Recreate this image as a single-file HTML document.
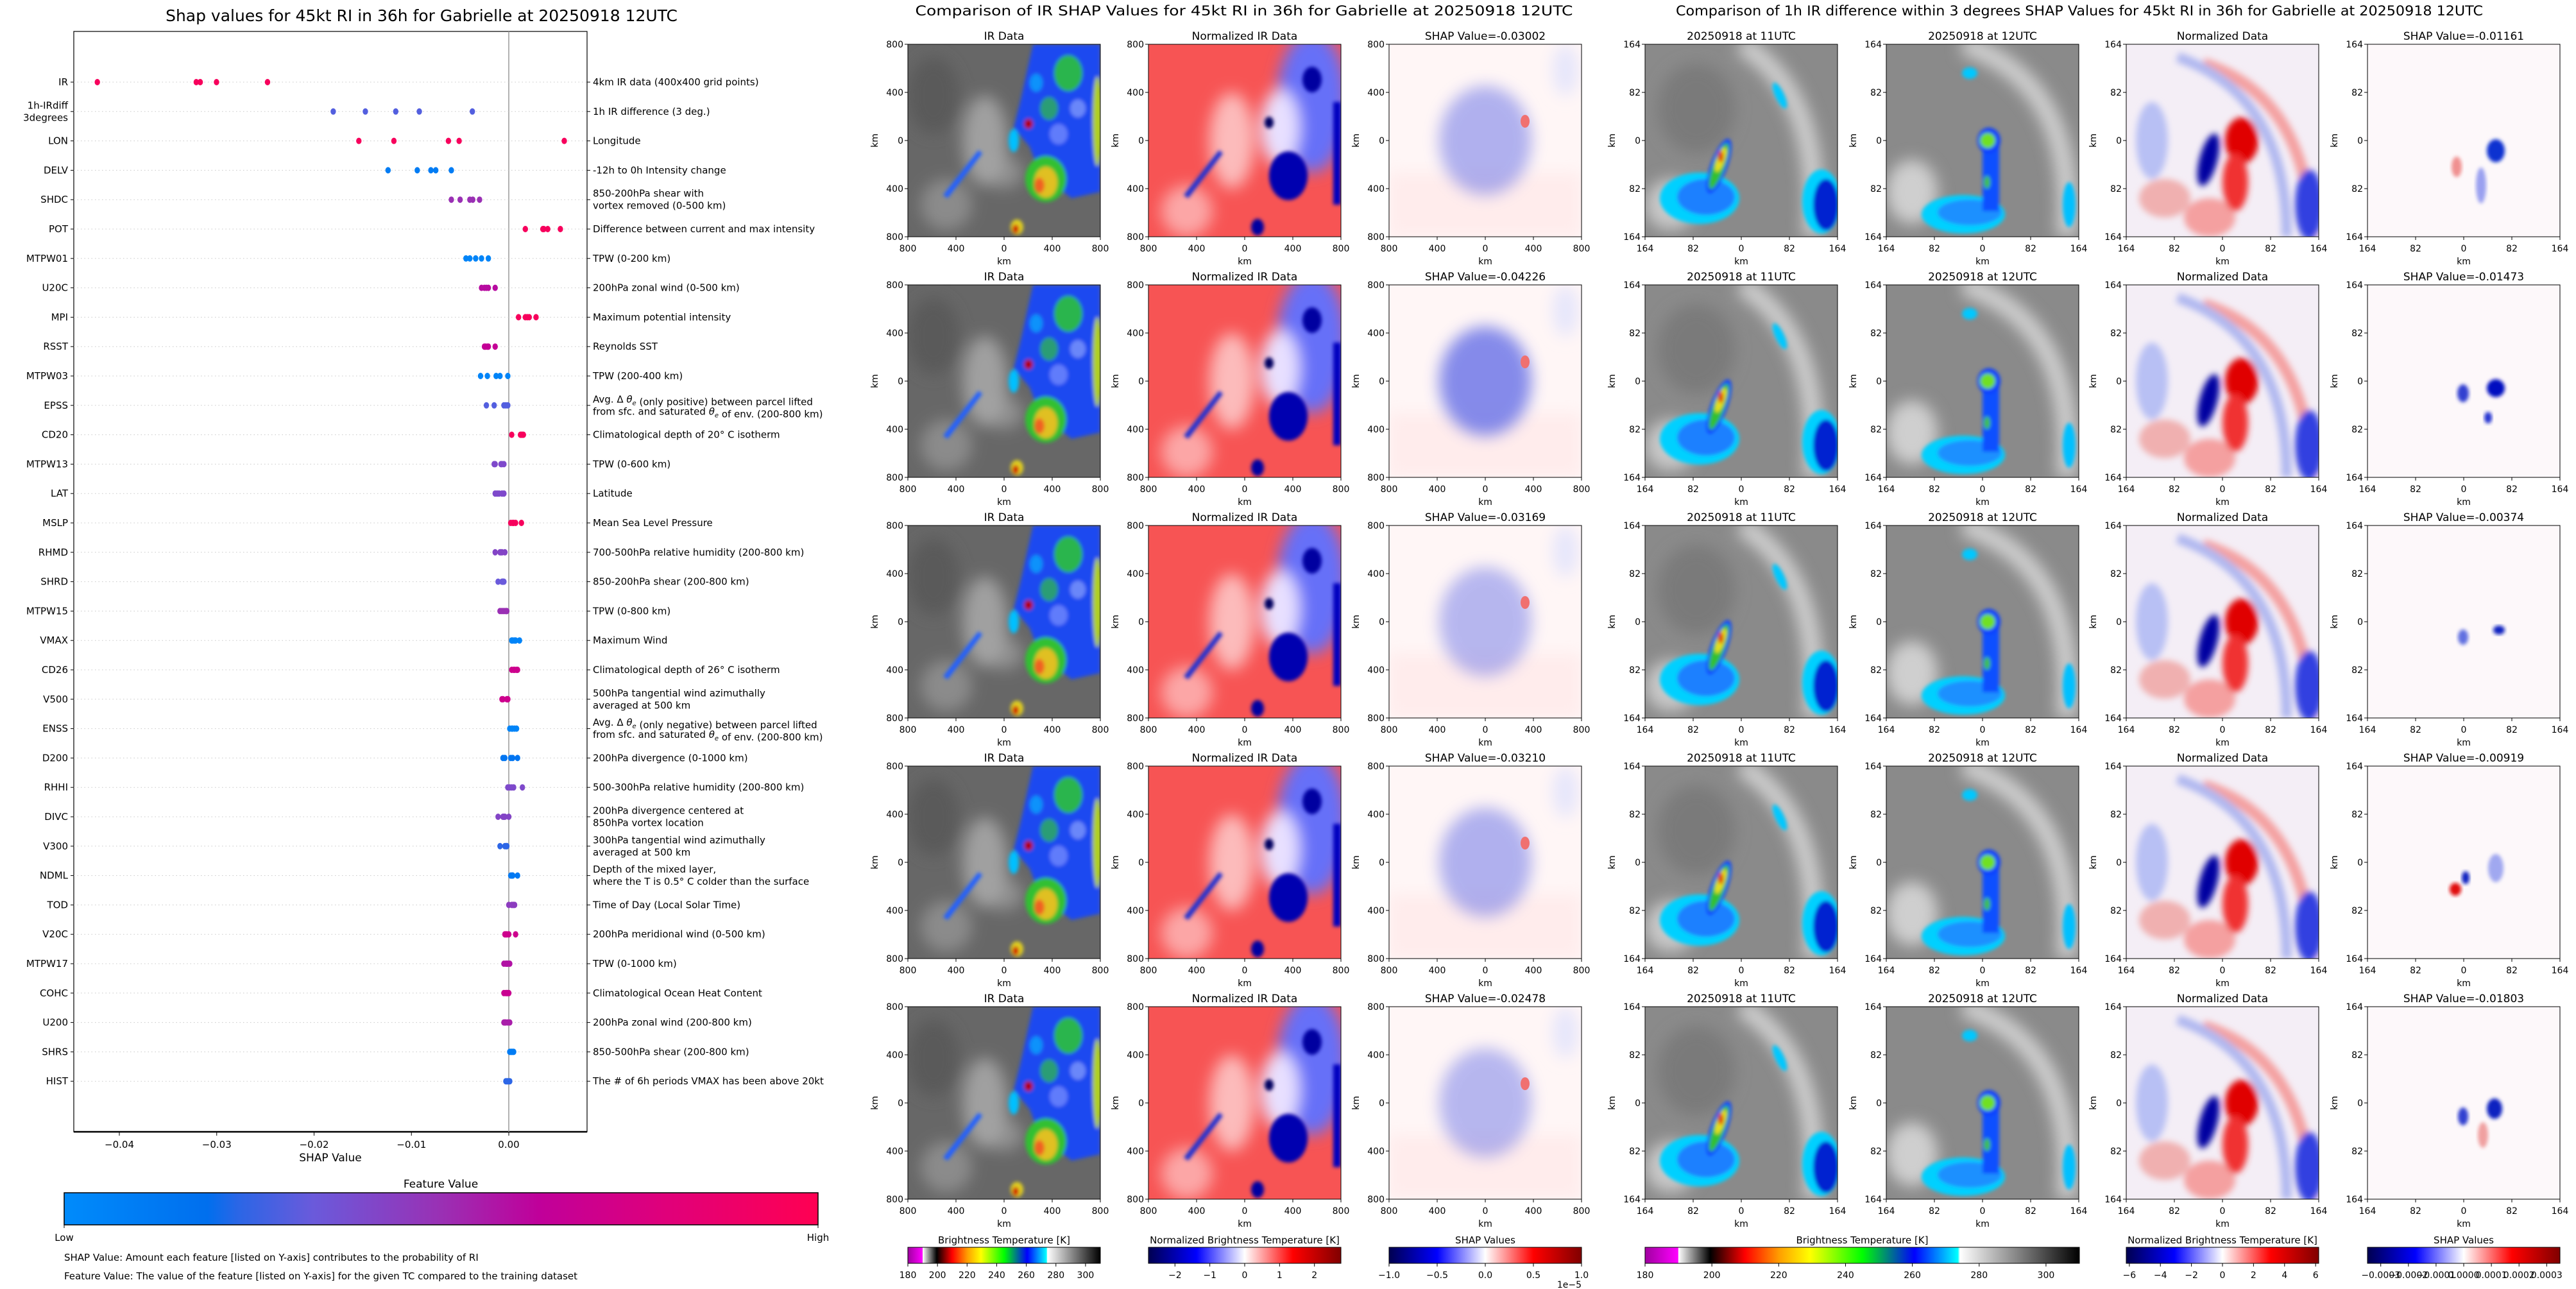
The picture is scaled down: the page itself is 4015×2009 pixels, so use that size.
<!DOCTYPE html>
<html><head><meta charset="utf-8"><style>
html,body{margin:0;padding:0;background:#fff;}
svg{display:block;font-family:"DejaVu Sans","Liberation Sans",sans-serif;}
</style></head><body>
<svg id="fig" xmlns="http://www.w3.org/2000/svg" width="4015" height="2009" viewBox="0 0 4015 2009">
<defs>
<filter id="b2" x="-20%" y="-20%" width="140%" height="140%"><feGaussianBlur stdDeviation="3"/></filter>
<filter id="b5" x="-30%" y="-30%" width="160%" height="160%"><feGaussianBlur stdDeviation="5"/></filter>
<filter id="b12" x="-50%" y="-50%" width="200%" height="200%"><feGaussianBlur stdDeviation="12"/></filter>
<clipPath id="pc"><rect x="0" y="0" width="300" height="300"/></clipPath>
<linearGradient id="fvgrad" x1="0" x2="1" y1="0" y2="0">
<stop offset="0" stop-color="#008bfb"/><stop offset="0.19" stop-color="#006fee"/><stop offset="0.23" stop-color="#2a66e6"/><stop offset="0.33" stop-color="#6a5adb"/><stop offset="0.5" stop-color="#9a30b4"/><stop offset="0.63" stop-color="#c0009a"/><stop offset="0.8" stop-color="#e0007a"/><stop offset="1" stop-color="#ff0052"/></linearGradient>
<linearGradient id="irgrad" x1="0" x2="1" y1="0" y2="0">
<stop offset="0" stop-color="#a000a0"/><stop offset="0.076" stop-color="#ff00ff"/><stop offset="0.077" stop-color="#ffffff"/><stop offset="0.15" stop-color="#000000"/><stop offset="0.23" stop-color="#ff0000"/><stop offset="0.31" stop-color="#ffa000"/><stop offset="0.38" stop-color="#ffff00"/><stop offset="0.5" stop-color="#00ff00"/><stop offset="0.62" stop-color="#0000ff"/><stop offset="0.72" stop-color="#00ffff"/><stop offset="0.725" stop-color="#ffffff"/><stop offset="1" stop-color="#000000"/></linearGradient>
<linearGradient id="seis" x1="0" x2="1" y1="0" y2="0">
<stop offset="0" stop-color="#000050"/><stop offset="0.25" stop-color="#0000ff"/><stop offset="0.5" stop-color="#ffffff"/><stop offset="0.75" stop-color="#ff0000"/><stop offset="1" stop-color="#800000"/></linearGradient>

<g id="irimg" clip-path="url(#pc)">
<rect width="300" height="300" fill="#676767"/>
<g filter="url(#b12)">
<ellipse cx="120" cy="150" rx="35" ry="70" fill="#b8b8b8" opacity="0.7"/>
<ellipse cx="60" cy="250" rx="40" ry="40" fill="#9a9a9a" opacity="0.7"/>
<ellipse cx="150" cy="200" rx="30" ry="25" fill="#a8a8a8" opacity="0.6"/>
<ellipse cx="40" cy="80" rx="40" ry="60" fill="#5a5a5a"/>
</g>
<g filter="url(#b2)">
<path d="M195 0 L300 0 L300 230 L255 240 L205 200 L190 160 L165 130 L175 90 Z" fill="#1a4af0"/>
<ellipse cx="250" cy="45" rx="22" ry="28" fill="#30c830" opacity="0.85"/>
<ellipse cx="220" cy="100" rx="14" ry="18" fill="#30c040" opacity="0.7"/>
<ellipse cx="235" cy="140" rx="14" ry="16" fill="#8090ff" opacity="0.7"/>
<ellipse cx="265" cy="100" rx="12" ry="14" fill="#a0b0ff" opacity="0.6"/>
<ellipse cx="200" cy="60" rx="10" ry="14" fill="#00b0ff" opacity="0.7"/>
<ellipse cx="295" cy="120" rx="7" ry="70" fill="#b0d020"/>
<ellipse cx="215" cy="210" rx="32" ry="36" fill="#30c030"/>
<ellipse cx="215" cy="215" rx="18" ry="24" fill="#e0c020"/>
<ellipse cx="205" cy="220" rx="8" ry="12" fill="#f06020"/>
<ellipse cx="188" cy="124" rx="7" ry="8" fill="#b00000"/>
<path d="M55 235 L110 165 L116 170 L62 240 Z" fill="#2060ff"/>
<ellipse cx="170" cy="285" rx="10" ry="12" fill="#e0d020"/>
<ellipse cx="168" cy="288" rx="5" ry="7" fill="#d00000"/>
<ellipse cx="165" cy="150" rx="8" ry="18" fill="#00c0ff"/>
</g></g>

<g id="nrimg" clip-path="url(#pc)">
<rect width="300" height="300" fill="#f75454"/>
<g filter="url(#b12)">
<ellipse cx="130" cy="150" rx="35" ry="75" fill="#ffffff" opacity="0.6"/>
<ellipse cx="60" cy="260" rx="40" ry="40" fill="#ffdddd" opacity="0.6"/>
<ellipse cx="255" cy="90" rx="55" ry="110" fill="#6670f8"/>
<ellipse cx="205" cy="130" rx="30" ry="60" fill="#e8e0ff"/>
</g>
<g filter="url(#b2)">
<ellipse cx="218" cy="205" rx="30" ry="38" fill="#0000b0"/>
<rect x="288" y="90" width="12" height="160" fill="#0000c0"/>
<ellipse cx="188" cy="122" rx="7" ry="9" fill="#000060"/>
<ellipse cx="170" cy="285" rx="10" ry="13" fill="#0000a0"/>
<path d="M55 235 L110 165 L116 170 L62 240 Z" fill="#2030d0"/>
<ellipse cx="255" cy="55" rx="15" ry="20" fill="#0000a0"/>
</g></g>

<g id="shimgbase" clip-path="url(#pc)">
<rect width="300" height="300" fill="#fff6f6"/>
<rect y="200" width="300" height="100" fill="#ffecec" filter="url(#b12)"/>
<ellipse cx="275" cy="40" rx="20" ry="40" fill="#e6e6fb" filter="url(#b12)"/>
</g>

<g id="r1img" clip-path="url(#pc)">
<rect width="300" height="300" fill="#8a8a8a"/>
<g filter="url(#b12)">
<path d="M150 0 Q280 80 260 300" stroke="#cfcfcf" stroke-width="30" fill="none"/>
<ellipse cx="40" cy="250" rx="40" ry="40" fill="#c8c8c8"/>
<ellipse cx="80" cy="100" rx="60" ry="70" fill="#7a7a7a"/>
</g>
<g filter="url(#b2)">
<ellipse cx="85" cy="240" rx="62" ry="40" fill="#00d0ff"/>
<ellipse cx="95" cy="238" rx="45" ry="28" fill="#1a80ff"/>
<ellipse cx="275" cy="245" rx="30" ry="50" fill="#00d0ff"/>
<ellipse cx="282" cy="250" rx="20" ry="40" fill="#0020d0"/>
<ellipse cx="115" cy="190" rx="13" ry="45" transform="rotate(20 115 190)" fill="#1040ff"/>
<ellipse cx="115" cy="190" rx="9" ry="38" transform="rotate(20 115 190)" fill="#30c030"/>
<ellipse cx="118" cy="180" rx="6" ry="20" transform="rotate(20 118 180)" fill="#e8e020"/>
<ellipse cx="118" cy="175" rx="4" ry="9" fill="#e02000"/>
<ellipse cx="210" cy="80" rx="7" ry="22" transform="rotate(-25 210 80)" fill="#00c8ff"/>
</g></g>

<g id="r2img" clip-path="url(#pc)">
<rect width="300" height="300" fill="#8a8a8a"/>
<g filter="url(#b12)">
<path d="M120 0 Q300 60 280 300" stroke="#d0d0d0" stroke-width="30" fill="none"/>
<ellipse cx="40" cy="230" rx="40" ry="50" fill="#cfcfcf"/>
</g>
<g filter="url(#b2)">
<ellipse cx="120" cy="265" rx="65" ry="30" fill="#00d0ff"/>
<ellipse cx="130" cy="262" rx="50" ry="20" fill="#1a90ff"/>
<rect x="150" y="150" width="26" height="110" fill="#1050ff"/>
<ellipse cx="160" cy="150" rx="18" ry="20" fill="#1040ff"/>
<ellipse cx="158" cy="150" rx="12" ry="12" fill="#70e020"/>
<ellipse cx="157" cy="215" rx="5" ry="10" fill="#40c040"/>
<ellipse cx="130" cy="45" rx="12" ry="9" fill="#00c8ff"/>
<ellipse cx="285" cy="250" rx="10" ry="35" fill="#00c0ff"/>
</g></g>

<g id="r3img" clip-path="url(#pc)">
<rect width="300" height="300" fill="#f4eef6"/>
<g filter="url(#b5)">
<path d="M120 30 Q280 80 290 300" stroke="#f4a0a0" stroke-width="18" fill="none"/>
<path d="M80 20 Q250 80 250 300" stroke="#b0b8f0" stroke-width="16" fill="none"/>
<ellipse cx="40" cy="150" rx="25" ry="60" fill="#b8c0f4"/>
<ellipse cx="60" cy="240" rx="40" ry="30" fill="#f0b0b0"/>
<ellipse cx="130" cy="270" rx="40" ry="30" fill="#f4a0a0"/>
<ellipse cx="285" cy="250" rx="22" ry="55" fill="#3040e0"/>
<ellipse cx="180" cy="150" rx="26" ry="36" fill="#e00000"/>
<ellipse cx="170" cy="215" rx="20" ry="45" fill="#f03030"/>
<ellipse cx="128" cy="180" rx="14" ry="42" transform="rotate(15 128 180)" fill="#0000a0"/>
</g></g>
</defs>
<rect width="4015" height="2009" fill="#ffffff"/>
<g id="left-chart"></g>
<g id="panels"></g>
</svg>
<script>
// ---------- Left chart data ----------
const featureNames = ["IR","1h-IRdiff\n3degrees","LON","DELV","SHDC","POT","MTPW01","U20C","MPI","RSST","MTPW03","EPSS","CD20","MTPW13","LAT","MSLP","RHMD","SHRD","MTPW15","VMAX","CD26","V500","ENSS","D200","RHHI","DIVC","V300","NDML","TOD","V20C","MTPW17","COHC","U200","SHRS","HIST"];
const featureDescriptions = ["4km IR data (400x400 grid points)","1h IR difference (3 deg.)","Longitude","-12h to 0h Intensity change","850-200hPa shear with\nvortex removed (0-500 km)","Difference between current and max intensity","TPW (0-200 km)","200hPa zonal wind (0-500 km)","Maximum potential intensity","Reynolds SST","TPW (200-400 km)","Avg. Δ θe (only positive) between parcel lifted\nfrom sfc. and saturated θe of env. (200-800 km)","Climatological depth of 20° C isotherm","TPW (0-600 km)","Latitude","Mean Sea Level Pressure","700-500hPa relative humidity (200-800 km)","850-200hPa shear (200-800 km)","TPW (0-800 km)","Maximum Wind","Climatological depth of 26° C isotherm","500hPa tangential wind azimuthally\naveraged at 500 km","Avg. Δ θe (only negative) between parcel lifted\nfrom sfc. and saturated θe of env. (200-800 km)","200hPa divergence (0-1000 km)","500-300hPa relative humidity (200-800 km)","200hPa divergence centered at\n850hPa vortex location","300hPa tangential wind azimuthally\naveraged at 500 km","Depth of the mixed layer,\nwhere the T is 0.5° C colder than the surface","Time of Day (Local Solar Time)","200hPa meridional wind (0-500 km)","TPW (0-1000 km)","Climatological Ocean Heat Content","200hPa zonal wind (200-800 km)","850-500hPa shear (200-800 km)","The # of 6h periods VMAX has been above 20kt"];
const shapIR = [-0.03002,-0.04226,-0.03169,-0.03210,-0.02478];
const shapIRdiff = [-0.01161,-0.01473,-0.00374,-0.00919,-0.01803];
const shapValues = [
 shapIR, shapIRdiff,
 [-0.0154,-0.0118,-0.0062,-0.0051,0.0057],
 [-0.0124,-0.0094,-0.0080,-0.0075,-0.0059],
 [-0.0059,-0.0050,-0.0040,-0.0037,-0.0030],
 [0.0017,0.0035,0.0036,0.0040,0.0053],
 [-0.0044,-0.0040,-0.0034,-0.0028,-0.0021],
 [-0.0028,-0.0025,-0.0023,-0.0021,-0.0014],
 [0.0010,0.0017,0.0019,0.0021,0.0028],
 [-0.0025,-0.0024,-0.0022,-0.0021,-0.0014],
 [-0.0029,-0.0022,-0.0013,-0.0009,-0.0001],
 [-0.0023,-0.0015,-0.0005,-0.0003,-0.0001],
 [0.0003,0.0012,0.0013,0.0014,0.0015],
 [-0.0015,-0.0014,-0.0008,-0.0007,-0.0005],
 [-0.0014,-0.0012,-0.0010,-0.0007,-0.0005],
 [0.0002,0.0004,0.0005,0.0007,0.0013],
 [-0.0014,-0.0009,-0.0008,-0.0007,-0.0004],
 [-0.0011,-0.0007,-0.0006,-0.0006,-0.0005],
 [-0.0009,-0.0007,-0.0005,-0.0003,-0.0002],
 [0.0003,0.0004,0.0006,0.0007,0.0011],
 [0.0003,0.0005,0.0006,0.0008,0.0009],
 [-0.0007,-0.0006,-0.0002,-0.0001,-0.0001],
 [0.0001,0.0003,0.0004,0.0006,0.0008],
 [-0.0006,-0.0004,0.0002,0.0004,0.0009],
 [-0.0001,0.0001,0.0003,0.0005,0.0014],
 [-0.0011,-0.0006,-0.0005,-0.0004,0.0000],
 [-0.0009,-0.0004,-0.0003,-0.0002,-0.0002],
 [0.0002,0.0003,0.0004,0.0004,0.0009],
 [0.0000,0.0003,0.0004,0.0005,0.0006],
 [-0.0004,-0.0003,-0.0002,0.0000,0.0007],
 [-0.0005,-0.0003,-0.0002,-0.0001,0.0001],
 [-0.0005,-0.0003,-0.0002,-0.0001,0.0000],
 [-0.0005,-0.0004,-0.0003,-0.0001,0.0001],
 [0.0001,0.0002,0.0003,0.0004,0.0005],
 [-0.0003,-0.0002,-0.0001,0.0000,0.0001]
];
const featureColorVals = [0.95,0.3,0.95,0.1,0.5,0.95,0.05,0.6,0.95,0.65,0.05,0.3,0.95,0.4,0.4,0.95,0.42,0.33,0.5,0.05,0.7,0.7,0.05,0.15,0.4,0.42,0.25,0.12,0.45,0.7,0.58,0.68,0.55,0.1,0.25];
const xTickVals = [-0.04,-0.03,-0.02,-0.01,0.0];
const xTickLabels = ["\u22120.04","\u22120.03","\u22120.02","\u22120.01","0.00"];

// ---------- Image panel data ----------
const rowShapIR = shapIR;
const rowShapDiff = shapIRdiff;
const midTickLabels = ["800","400","0","400","800"];
const rightTickLabels = ["164","82","0","82","164"];
const irCbTicks = [180,200,220,240,260,280,300];
const nrCbTicks = [-2,-1,0,1,2];
const shCbTicks = [-1.0,-0.5,0.0,0.5,1.0];
const nr2CbTicks = [-6,-4,-2,0,2,4,6];
const sh2CbTicks = [-0.0003,-0.0002,-0.0001,0.0,0.0001,0.0002,0.0003];

const NS = "http://www.w3.org/2000/svg";
function mk(tag, attrs, parent){ const e=document.createElementNS(NS,tag); for(const k in attrs) e.setAttribute(k,attrs[k]); parent.appendChild(e); return e; }
function txt(s, attrs, parent){ const e=mk('text',attrs,parent); e.textContent=s; return e; }
const stops=[[0,[0,139,251]],[0.19,[0,111,238]],[0.33,[106,90,219]],[0.5,[154,48,180]],[0.63,[192,0,154]],[0.8,[224,0,122]],[1,[255,0,82]]];
function cmap(v){ for(let i=1;i<stops.length;i++){ if(v<=stops[i][0]){ const a=stops[i-1],b=stops[i]; const t=(v-a[0])/(b[0]-a[0]); const c=a[1].map((x,j)=>Math.round(x+(b[1][j]-x)*t)); return 'rgb('+c.join(',')+')'; } } return 'rgb(255,0,82)'; }

// ---------- Left chart ----------
const L = document.getElementById('left-chart');
const AX = {left:115, right:915, top:49, bottom:1764};
const X0 = 793, XSCALE = 15175;
function xS(v){ return X0 + v*XSCALE; }
function yR(i){ return 128 + i*45.8; }

let el;
el = txt("Shap values for 45kt RI in 36h for Gabrielle at 20250918 12UTC",{x:657,y:33,'text-anchor':'middle','font-size':25},L);



el = mk('rect',{x:AX.left,y:AX.top,width:AX.right-AX.left,height:AX.bottom-AX.top,fill:'none',stroke:'#000','stroke-width':1.2},L);


mk('line',{x1:AX.left,x2:AX.right,y1:AX.bottom,y2:AX.bottom,stroke:'#000','stroke-width':2.5},L);

el = mk('line',{x1:xS(0),x2:xS(0),y1:AX.top,y2:AX.bottom,stroke:'#999','stroke-width':1.5},L);



function addThetaText(line, attrs, parent){
  const t = mk('text',attrs,parent);
  const parts = line.split('θe');
  parts.forEach((p,i)=>{
    const s=document.createElementNS(NS,'tspan'); s.textContent=p; t.appendChild(s);
    if(i<parts.length-1){
      const th=document.createElementNS(NS,'tspan'); th.textContent='θ'; th.setAttribute('font-style','italic'); t.appendChild(th);
      const sub=document.createElementNS(NS,'tspan'); sub.textContent='e'; sub.setAttribute('font-size','10'); sub.setAttribute('dy','4'); sub.setAttribute('font-style','italic'); t.appendChild(sub);
      const back=document.createElementNS(NS,'tspan'); back.setAttribute('dy','-4'); back.textContent=''; t.appendChild(back);
    }
  });
  return t;
}

featureNames.forEach((name,i)=>{
  const y = yR(i);
  const g = mk('g',{},L);
  
  
  mk('line',{x1:AX.left,x2:AX.right,y1:y,y2:y,stroke:'#c8c8c8','stroke-width':1,'stroke-dasharray':'1.5,4'},g);
  mk('line',{x1:AX.left-5,x2:AX.left,y1:y,y2:y,stroke:'#000'},g);
  mk('line',{x1:AX.right,x2:AX.right+5,y1:y,y2:y,stroke:'#000'},g);
  const lines = name.split('\n');
  lines.forEach((ln,k)=>{
    const e = txt(ln,{x:AX.left-9,y:y+5+(k-(lines.length-1)/2)*19,'text-anchor':'end','font-size':15},g);
    
    
  });
  const dl = featureDescriptions[i].split('\n');
  dl.forEach((ln,k)=>{
    const e = addThetaText(ln,{x:AX.right+9,y:y+5+(k-(dl.length-1)/2)*19,'font-size':15},g);
    
    
  });
  const col = cmap(featureColorVals[i]);
  shapValues[i].forEach(v=>{
    const d = mk('ellipse',{cx:xS(v),cy:y,rx:4.2,ry:5,fill:col},g);
    
    
  });
});

xTickVals.forEach((v,i)=>{
  mk('line',{x1:xS(v),x2:xS(v),y1:AX.bottom,y2:AX.bottom+6,stroke:'#000'},L);
  const e = txt(xTickLabels[i],{x:xS(v),y:1789,'text-anchor':'middle','font-size':15},L);
  
  
});
el = txt("SHAP Value",{x:515,y:1810,'text-anchor':'middle','font-size':17},L);



el = txt("Feature Value",{x:687,y:1851,'text-anchor':'middle','font-size':17},L);


el = mk('rect',{x:100,y:1859,width:1175,height:50,fill:'url(#fvgrad)',stroke:'#000','stroke-width':1.5},L);


mk('line',{x1:100,x2:100,y1:1909,y2:1914,stroke:'#000'},L);
mk('line',{x1:1275,x2:1275,y1:1909,y2:1914,stroke:'#000'},L);
el = txt("Low",{x:100,y:1934,'text-anchor':'middle','font-size':15},L);


el = txt("High",{x:1275,y:1934,'text-anchor':'middle','font-size':15},L);


el = txt("SHAP Value: Amount each feature [listed on Y-axis] contributes to the probability of RI",{x:100,y:1965,'font-size':15},L);


el = txt("Feature Value: The value of the feature [listed on Y-axis] for the given TC compared to the training dataset",{x:100,y:1994,'font-size':15},L);



// ---------- Image panels ----------
const P = document.getElementById('panels');
el = txt("Comparison of IR SHAP Values for 45kt RI in 36h for Gabrielle at 20250918 12UTC",{x:1939,y:24,'text-anchor':'middle','font-size':21,textLength:1025,lengthAdjust:'spacingAndGlyphs'},P);


el = txt("Comparison of 1h IR difference within 3 degrees SHAP Values for 45kt RI in 36h for Gabrielle at 20250918 12UTC",{x:3241,y:24,'text-anchor':'middle','font-size':21,textLength:1258,lengthAdjust:'spacingAndGlyphs'},P);



const midCols = [1415,1790,2165];
const rightCols = [2564,2940,3314,3690];
const rowTops = [69,444,819,1194,1569];
const extraBlobs = [
 [[200,166,14,18,'#1030d0'],[139,191,8,16,'#f09090'],[177,220,8,28,'#9aa0f0']],
 [[200,161,14,14,'#0010c0'],[149,169,9,14,'#3040d0'],[188,207,6,9,'#2030d0']],
 [[205,163,9,7,'#1020c0'],[149,174,8,12,'#6070e0']],
 [[137,192,9,10,'#e01010'],[153,174,6,10,'#1020c0'],[200,159,12,22,'#a0a8f0']],
 [[198,159,12,16,'#1020c0'],[149,171,8,14,'#3040d0'],[180,200,8,20,'#f0a0a0']]
];
const shapBlobOpacity = [0.55,0.85,0.5,0.55,0.5];

function panelAxes(x0,y0,labels,title,name,showKm){
  const g = mk('g',{},P);
  
  
  const t = txt(title,{x:x0+150,y:y0-7,'text-anchor':'middle','font-size':17},g);
  
  
  mk('rect',{x:x0,y:y0,width:300,height:300,fill:'none',stroke:'#000','stroke-width':1},g);
  labels.forEach((lb,k)=>{
    const px = x0+k*75, py = y0+k*75;
    mk('line',{x1:px,x2:px,y1:y0+300,y2:y0+305,stroke:'#000'},g);
    txt(lb,{x:px,y:y0+323,'text-anchor':'middle','font-size':14},g);
    mk('line',{x1:x0-5,x2:x0,y1:py,y2:py,stroke:'#000'},g);
    txt(lb,{x:x0-7,y:py+5,'text-anchor':'end','font-size':14},g);
  });
  txt('km',{x:x0+150,y:y0+343,'text-anchor':'middle','font-size':14},g);
  if(showKm){ txt('km',{x:0,y:0,'text-anchor':'middle','font-size':14,transform:'translate('+(x0-47)+','+(y0+150)+') rotate(-90)'},g); }
  return g;
}

rowTops.forEach((y0,r)=>{
  let u = mk('use',{href:'#irimg',x:midCols[0],y:y0},P);
  
  
  u = mk('use',{href:'#nrimg',x:midCols[1],y:y0},P);
  
  
  const sg = mk('g',{transform:'translate('+midCols[2]+','+y0+')','clip-path':'url(#pc)'},P);
  
  
  mk('use',{href:'#shimgbase'},sg);
  mk('ellipse',{cx:150,cy:150,rx:72,ry:85,fill:'#7078e8',opacity:shapBlobOpacity[r],filter:'url(#b12)'},sg);
  mk('ellipse',{cx:212,cy:120,rx:7,ry:10,fill:'#f07070'},sg);
  panelAxes(midCols[0],y0,midTickLabels,'IR Data','ir-data-panel',true);
  panelAxes(midCols[1],y0,midTickLabels,'Normalized IR Data','normalized-ir-panel',true);
  panelAxes(midCols[2],y0,midTickLabels,'SHAP Value='+rowShapIR[r].toFixed(5),'ir-shap-panel',true);

  u = mk('use',{href:'#r1img',x:rightCols[0],y:y0},P);
  
  
  u = mk('use',{href:'#r2img',x:rightCols[1],y:y0},P);
  
  
  u = mk('use',{href:'#r3img',x:rightCols[2],y:y0},P);
  
  
  const rg = mk('g',{transform:'translate('+rightCols[3]+','+y0+')','clip-path':'url(#pc)'},P);
  
  
  mk('rect',{width:300,height:300,fill:'#fdf8fa'},rg);
  extraBlobs[r].forEach(b=>{ mk('ellipse',{cx:b[0],cy:b[1],rx:b[2],ry:b[3],fill:b[4],filter:'url(#b2)'},rg); });
  panelAxes(rightCols[0],y0,rightTickLabels,'20250918 at 11UTC','ir-11utc-panel',true);
  panelAxes(rightCols[1],y0,rightTickLabels,'20250918 at 12UTC','ir-12utc-panel',true);
  panelAxes(rightCols[2],y0,rightTickLabels,'Normalized Data','normalized-diff-panel',true);
  panelAxes(rightCols[3],y0,rightTickLabels,'SHAP Value='+rowShapDiff[r].toFixed(5),'diff-shap-panel',true);
});

function colorbar(x0,w,grad,title,ticks,vmin,vmax,fmt,name){
  const g = mk('g',{},P);
  
  
  txt(title,{x:x0+w/2,y:1938,'text-anchor':'middle','font-size':15},g);
  mk('rect',{x:x0,y:1944,width:w,height:25,fill:'url(#'+grad+')',stroke:'#000','stroke-width':1},g);
  ticks.forEach(v=>{
    const px = x0 + (v-vmin)/(vmax-vmin)*w;
    mk('line',{x1:px,x2:px,y1:1969,y2:1974,stroke:'#000'},g);
    txt(fmt(v),{x:px,y:1992,'text-anchor':'middle','font-size':14},g);
  });
  return g;
}
const mfmt = v => (v<0?'\u2212':'')+Math.abs(v);
colorbar(1415,300,'irgrad','Brightness Temperature [K]',irCbTicks,180,310,v=>String(v),'ir-colorbar');
colorbar(1790,300,'seis','Normalized Brightness Temperature [K]',nrCbTicks,-2.76,2.76,mfmt,'normalized-ir-colorbar');
colorbar(2165,300,'seis','SHAP Values',shCbTicks,-1,1,v=>(v<0?'\u2212':'')+Math.abs(v).toFixed(1),'ir-shap-colorbar');
el = txt('1e\u22125',{x:2465,y:2007,'text-anchor':'end','font-size':14},P);


colorbar(2564,677,'irgrad','Brightness Temperature [K]',irCbTicks,180,310,v=>String(v),'diff-ir-colorbar');
colorbar(3314,300,'seis','Normalized Brightness Temperature [K]',nr2CbTicks,-6.2,6.2,mfmt,'normalized-diff-colorbar');
colorbar(3690,300,'seis','SHAP Values',sh2CbTicks,-0.000348,0.000348,v=>(v<0?'\u2212':'')+Math.abs(v).toFixed(4),'diff-shap-colorbar');
</script>
</body></html>
